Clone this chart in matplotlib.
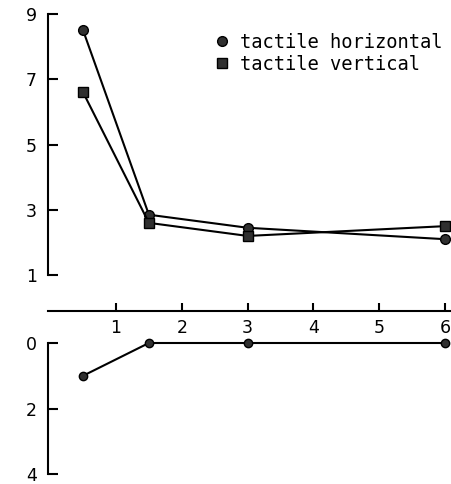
import matplotlib
matplotlib.use("Agg")
import matplotlib.pyplot as plt
from matplotlib.lines import Line2D

# Data
durations = [0.5, 1.5, 3, 6]
tactile_horizontal = [8.5, 2.85, 2.45, 2.1]
tactile_vertical = [6.6, 2.6, 2.2, 2.5]
lower_values = [1.0, 0.0, 0.0, 0.0]

x_ticks = [1, 2, 3, 4, 5, 6]
top_yticks = [1, 3, 5, 7, 9]
bottom_yticks = [0, 2, 4]
series_labels = ["tactile horizontal", "tactile vertical"]

W, H = 451, 484
fig = plt.figure(figsize=(W / 100, H / 100), dpi=100)
plt.rcParams["font.family"] = ["DejaVu Sans"]

FS = 12.5
LW = 1.5
MS = 7

def fx(px):
    return px / W

def fy(py):
    return 1 - py / H

left = fx(48)
width = fx(451) - left
xlim = (-0.033, 6.09)

# Upper panel, its bottom spine doubles as the shared x axis
ax = fig.add_axes([left, fy(311), width, fy(14) - fy(311)])
ax.set_xlim(*xlim)
ax.set_ylim(-0.1, 9)
for s in ["top", "right"]:
    ax.spines[s].set_visible(False)
ax.spines["left"].set_bounds(1, 9)
ax.spines["left"].set_linewidth(LW)
ax.spines["bottom"].set_linewidth(LW)
ax.set_yticks(top_yticks)
ax.set_xticks(x_ticks)
ax.tick_params(axis="y", direction="in", length=7, width=LW, labelsize=FS, pad=8)
ax.tick_params(axis="x", direction="in", length=6, width=LW, labelsize=FS, pad=6)

ax.plot(durations, tactile_horizontal, color="black", lw=LW, marker="o",
        ms=MS, mfc="#303030", mec="black", clip_on=False, zorder=3)
ax.plot(durations, tactile_vertical, color="black", lw=LW, marker="s",
        ms=MS, mfc="#303030", mec="black", clip_on=False, zorder=3)

handles = [
    Line2D([], [], ls="none", marker="o", ms=MS, mfc="#303030", mec="black"),
    Line2D([], [], ls="none", marker="s", ms=MS, mfc="#303030", mec="black"),
]
ax.legend(handles, series_labels,
          loc="upper left", bbox_to_anchor=(fx(216), fy(33)),
          bbox_transform=fig.transFigure, frameon=False,
          prop={"family": "DejaVu Sans Mono", "size": 13.5},
          handlelength=0.6, handletextpad=0.7, labelspacing=0.15,
          borderpad=0, borderaxespad=0)

# Lower panel with inverted scale
bx = fig.add_axes([left, fy(474), width, fy(343) - fy(474)])
bx.set_xlim(*xlim)
bx.set_ylim(4, 0)
for s in ["top", "right", "bottom"]:
    bx.spines[s].set_visible(False)
bx.spines["left"].set_linewidth(LW)
bx.set_xticks([])
bx.set_yticks(bottom_yticks)
bx.tick_params(axis="y", direction="in", length=7, width=LW, labelsize=FS, pad=8)
bx.plot(durations, lower_values, color="black", lw=LW, marker="o",
        ms=MS - 1, mfc="#303030", mec="black", clip_on=False, zorder=3)

fig.savefig("out.png", dpi=100)
